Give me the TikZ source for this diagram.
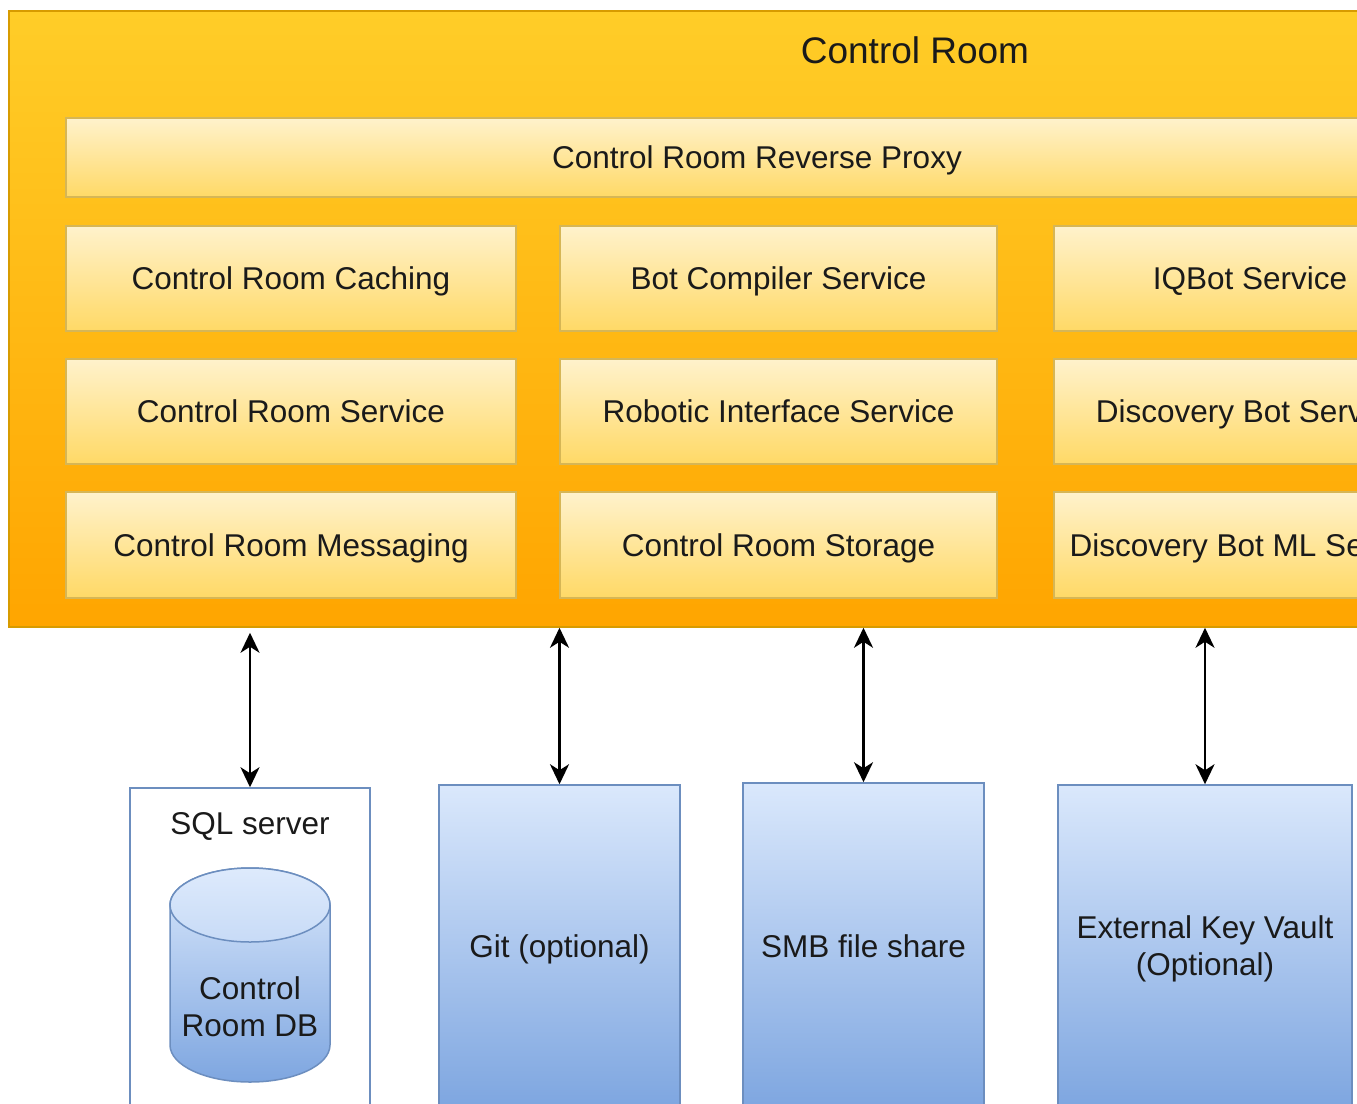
\documentclass[tikz,border=0pt]{standalone}
\usepackage{fontspec}
\setmainfont{Liberation Sans}
\usetikzlibrary{arrows.meta}
\definecolor{orTop}{HTML}{FFCD28}
\definecolor{orBot}{HTML}{FFA500}
\definecolor{orLine}{HTML}{D79B00}
\definecolor{yeTop}{HTML}{FFF2CC}
\definecolor{yeBot}{HTML}{FFD966}
\definecolor{yeLine}{HTML}{D6B656}
\definecolor{blTop}{HTML}{DAE8FC}
\definecolor{blBot}{HTML}{7EA6E0}
\definecolor{blLine}{HTML}{6C8EBF}
\definecolor{txt}{HTML}{1A1A1A}
\tikzset{
  capcenter/.style={text height=22.5pt, text depth=0pt},
  twolines/.style={text height=59.5pt, text depth=0pt},
  outerbox/.style={draw=orLine, line width=1.5pt, top color=orTop, bottom color=orBot, rectangle, inner sep=0pt},
  svcbox/.style={draw=yeLine, line width=1.5pt, top color=yeTop, bottom color=yeBot, rectangle, inner sep=0pt,
     text=txt, font=\fontsize{31.5}{37}\selectfont, capcenter},
  extbox/.style={draw=blLine, line width=1.5pt, top color=blTop, bottom color=blBot, rectangle, inner sep=0pt,
     text=txt, font=\fontsize{31.5}{37}\selectfont, align=center, capcenter},
  plainbox/.style={draw=blLine, line width=1.5pt, fill=white, rectangle, inner sep=0pt},
  lbl/.style={text=txt, font=\fontsize{31.5}{37}\selectfont, align=center, inner sep=0pt, capcenter},
  link/.style={draw=black, line width=2.6pt, {Stealth[length=20pt,width=19pt,inset=6pt]}-{Stealth[length=20pt,width=19pt,inset=6pt]}}
}
\begin{document}
\begin{tikzpicture}[x=1pt,y=-1pt]
\useasboundingbox (0,0) rectangle (1357,1103);
\begin{scope}
\clip (0,0) rectangle (1357,1103);
% outer control room box
\node[outerbox, minimum width=1491pt, minimum height=616pt] (cr) at (754.5,319) {};
\node[lbl, font=\fontsize{37}{42}\selectfont, text height=26.5pt] (crtitle) at (915,50) {Control Room};
% reverse proxy
\node[svcbox, minimum width=1382pt, minimum height=79pt] (proxy) at (757,157.5) {Control Room Reverse Proxy};
% services
\node[svcbox, minimum width=450pt, minimum height=105pt] (cache) at (291,278.5) {Control Room Caching};
\node[svcbox, minimum width=437pt, minimum height=105pt] (bcs) at (778.5,278.5) {Bot Compiler Service};
\node[svcbox, minimum width=392pt, minimum height=105pt] (iqbot) at (1250,278.5) {IQBot Service};
\node[svcbox, minimum width=450pt, minimum height=105pt] (crs) at (291,411.5) {Control Room Service};
\node[svcbox, minimum width=437pt, minimum height=105pt] (ris) at (778.5,411.5) {Robotic Interface Service};
\node[svcbox, minimum width=392pt, minimum height=105pt] (dbs) at (1250,411.5) {Discovery Bot Service};
\node[svcbox, minimum width=450pt, minimum height=106pt] (msg) at (291,545) {Control Room Messaging};
\node[svcbox, minimum width=437pt, minimum height=106pt] (stor) at (778.5,545) {Control Room Storage};
\node[svcbox, minimum width=392pt, minimum height=106pt] (dbml) at (1250,545) {Discovery Bot ML Service};
% external systems
\node[plainbox, minimum width=240pt, minimum height=412pt] (sql) at (250,994) {};
\node[lbl] (sqltitle) at (250,823) {SQL server};
\node[extbox, minimum width=241pt, minimum height=322pt] (git) at (559.5,946) {Git (optional)};
\node[extbox, minimum width=241pt, minimum height=326pt] (smb) at (863.5,946) {SMB file share};
\node[extbox, twolines, minimum width=294pt, minimum height=322pt] (kv) at (1205,946) {External Key Vault\\(Optional)};
% database cylinder
\path[draw=blLine, line width=1.5pt, top color=blTop, bottom color=blBot]
  (170,905) -- (170,1045) arc[start angle=180, end angle=360, x radius=80, y radius=-37]
  -- (330,905) arc[start angle=0, end angle=180, x radius=80, y radius=-37] -- cycle;
\path[draw=blLine, line width=1.5pt, top color=blTop!90!white, bottom color=blTop!80!blBot]
  (250,905) ellipse[x radius=80, y radius=37];
\node[lbl, twolines] (db) at (250,1007) {Control\\Room DB};
% connectors
\coordinate (sqltop) at ([yshift=-5pt]cr.south -| sql.north);
\draw[link] (sqltop) -- (sql.north);
\draw[link] (git.north |- cr.south) -- (git.north);
\draw[link] (smb.north |- cr.south) -- (smb.north);
\draw[link] (kv.north |- cr.south) -- (kv.north);
\end{scope}
\end{tikzpicture}
\end{document}
